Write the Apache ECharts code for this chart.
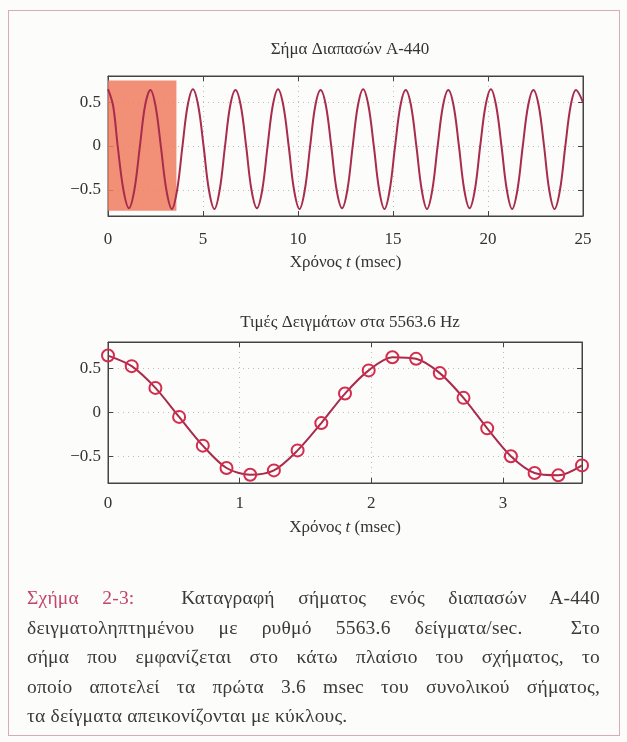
<!DOCTYPE html>
<html>
<head>
<meta charset="utf-8">
<title>Σήμα Διαπασών Α-440</title>
<script src="https://cdn.jsdelivr.net/npm/echarts@6/dist/echarts.min.js"></script>
<style>
    html, body { margin: 0; padding: 0; background: #fcfcfb; }
    #wrap { position: relative; width: 627px; height: 742px; }
    #frame { position: absolute; left: 8px; top: 10px; width: 610px; height: 724px; border: 1px solid #d9abb8; }
    #chartArea { position: absolute; left: 0; top: 0; width: 627px; height: 742px; }
    #caption {
        position: absolute; left: 27px; top: 583px; width: 573px;
        font-family: 'Liberation Serif', serif; font-size: 19.5px; letter-spacing: 0.2px;
        line-height: 29.5px; color: #3a3a3a;
    }
    #caption .j { text-align: justify; text-align-last: justify; }
    #caption .red { color: #c2466a; }
</style>
</head>
<body>
<div id="wrap">
    <div id="frame"></div>
    <div id="chartArea"></div>
    <div id="caption">
        <div class="j"><span class="red">Σχήμα 2-3:</span>&nbsp; Καταγραφή σήματος ενός διαπασών Α-440</div>
        <div class="j">δειγματοληπτημένου με ρυθμό 5563.6 δείγματα/sec.&nbsp; Στο</div>
        <div class="j">σήμα που εμφανίζεται στο κάτω πλαίσιο του σχήματος, το</div>
        <div class="j">οποίο αποτελεί τα πρώτα 3.6 msec του συνολικού σήματος,</div>
        <div>τα δείγματα απεικονίζονται με κύκλους.</div>
    </div>
</div>
<script>
// επάνω γράφημα: σημεία του σήματος ανά 1/8 περιόδου (msec, πλάτος)
const toneT = [0, 0.27, 0.51, 0.81, 1.10, 1.39, 1.68, 1.95,
    2.23, 2.50, 2.78, 3.07, 3.36, 3.64, 3.92, 4.19,
    4.47, 4.75, 5.03, 5.31, 5.60, 5.88, 6.16, 6.43,
    6.71, 6.99, 7.27, 7.55, 7.84, 8.12, 8.40, 8.67,
    8.95, 9.23, 9.51, 9.79, 10.08, 10.36, 10.64, 10.91,
    11.19, 11.47, 11.75, 12.03, 12.32, 12.60, 12.88, 13.15,
    13.43, 13.71, 13.99, 14.27, 14.55, 14.83, 15.11, 15.39,
    15.67, 15.95, 16.23, 16.51, 16.79, 17.07, 17.35, 17.63,
    17.91, 18.19, 18.47, 18.75, 19.03, 19.31, 19.59, 19.87,
    20.15, 20.43, 20.71, 20.99, 21.27, 21.55, 21.83, 22.11,
    22.39, 22.67, 22.95, 23.22, 23.50, 23.79, 24.07, 24.35,
    24.63, 25];
const toneV = [0.65, 0.46, 0, -0.50, -0.71, -0.50, 0, 0.46,
    0.64, 0.46, 0, -0.50, -0.72, -0.50, 0, 0.46,
    0.65, 0.46, 0, -0.50, -0.72, -0.50, 0, 0.46,
    0.64, 0.46, 0, -0.50, -0.71, -0.50, 0, 0.46,
    0.65, 0.46, 0, -0.50, -0.72, -0.50, 0, 0.46,
    0.64, 0.46, 0, -0.50, -0.71, -0.50, 0, 0.46,
    0.65, 0.46, 0, -0.50, -0.72, -0.50, 0, 0.46,
    0.64, 0.46, 0, -0.50, -0.72, -0.50, 0, 0.46,
    0.64, 0.46, 0, -0.50, -0.71, -0.50, 0, 0.46,
    0.65, 0.46, 0, -0.50, -0.72, -0.50, 0, 0.46,
    0.64, 0.46, 0, -0.50, -0.72, -0.50, 0, 0.46,
    0.64, 0.50];

// κάτω γράφημα: δείγματα στα 5563.6 Hz
const sampleT = [0, 0.18, 0.36, 0.54, 0.72, 0.90, 1.08, 1.26, 1.44, 1.62, 1.80,
    1.98, 2.16, 2.34, 2.52, 2.70, 2.88, 3.06, 3.24, 3.42, 3.60];
const sampleV = [0.646, 0.526, 0.279, -0.05, -0.376, -0.63, -0.706, -0.657, -0.43, -0.12, 0.215,
    0.478, 0.627, 0.609, 0.447, 0.166, -0.18, -0.496, -0.687, -0.713, -0.60];

const yTicks = [-0.5, 0, 0.5];
const highlightBox = [0, 3.6, -0.74, 0.75];

const serif = 'Liberation Serif';
const textColor = '#333';
const boxColor = '#444';
const lineColor = '#a82c4c';
const circleColor = '#d42c4c';

const chartDom = document.getElementById('chartArea');
const myChart = echarts.init(chartDom);

function yLabel(v) {
    return v < 0 ? '\u2212' + (-v) : String(v);
}

const labelStyle = { fontFamily: serif, fontSize: 17, color: textColor };
const gridLine = { show: true, lineStyle: { color: '#bdbdbd', width: 1, type: [1, 4] } };
const boxLine = { show: true, onZero: false, lineStyle: { color: boxColor } };

function xMain(gridIndex, max, interval, margin, nameGap) {
    return {
        gridIndex, type: 'value', min: 0, max, interval, position: 'bottom',
        name: '{n|Χρόνος }{i|t}{n| (msec)}', nameLocation: 'middle', nameGap,
        nameTextStyle: {
            rich: {
                n: { fontFamily: serif, fontSize: 17, color: textColor },
                i: { fontFamily: serif, fontSize: 17, color: textColor, fontStyle: 'italic' }
            }
        },
        axisLine: boxLine,
        axisTick: { show: true, inside: true, length: 5, lineStyle: { color: boxColor } },
        axisLabel: { ...labelStyle, margin, showMaxLabel: max === 25 },
        splitLine: gridLine
    };
}

function xMirror(gridIndex, max, interval) {
    return {
        gridIndex, type: 'value', min: 0, max, interval, position: 'top',
        axisLine: boxLine,
        axisTick: { show: true, inside: true, length: 5, lineStyle: { color: boxColor } },
        axisLabel: { show: false },
        splitLine: { show: false }
    };
}

function yMain(gridIndex) {
    return {
        gridIndex, type: 'value', min: -0.8, max: 0.8, position: 'left',
        axisLine: boxLine,
        axisTick: { show: true, inside: true, length: 5, customValues: yTicks, lineStyle: { color: boxColor } },
        axisLabel: { ...labelStyle, margin: 7, customValues: yTicks, formatter: yLabel },
        splitLine: gridLine
    };
}

function yMirror(gridIndex) {
    return {
        gridIndex, type: 'value', min: -0.8, max: 0.8, position: 'right',
        axisLine: boxLine,
        axisTick: { show: true, inside: true, length: 5, customValues: yTicks, lineStyle: { color: boxColor } },
        axisLabel: { show: false },
        splitLine: { show: false }
    };
}

const option = {
    backgroundColor: 'transparent',
    animation: false,
    title: [
        { text: 'Σήμα Διαπασών Α-440', left: 345, top: 36, textAlign: 'center',
          textStyle: { fontFamily: serif, fontSize: 17, fontWeight: 'normal', color: textColor } },
        { text: 'Τιμές Δειγμάτων στα 5563.6 Hz', left: 345, top: 309, textAlign: 'center',
          textStyle: { fontFamily: serif, fontSize: 17, fontWeight: 'normal', color: textColor } }
    ],
    grid: [
        { left: 108, top: 76, width: 475, height: 140, show: true, borderColor: boxColor, borderWidth: 1 },
        { left: 108, top: 342, width: 474, height: 141, show: true, borderColor: boxColor, borderWidth: 1 }
    ],
    xAxis: [
        xMain(0, 25, 5, 15, 38),
        xMirror(0, 25, 5),
        xMain(1, 3.6, 1, 12, 36),
        xMirror(1, 3.6, 1)
    ],
    yAxis: [yMain(0), yMirror(0), yMain(1), yMirror(1)],
    series: [
        {
            type: 'line', xAxisIndex: 0, yAxisIndex: 0,
            data: toneT.map((t, i) => [t, toneV[i]]),
            smooth: 0.35, symbol: 'none',
            lineStyle: { color: lineColor, width: 2 },
            markArea: {
                silent: true,
                itemStyle: { color: '#ef7c5e', opacity: 0.85 },
                data: [[
                    { coord: [highlightBox[0], highlightBox[3]] },
                    { coord: [highlightBox[1], highlightBox[2]] }
                ]]
            }
        },
        {
            type: 'line', xAxisIndex: 2, yAxisIndex: 2,
            data: sampleT.map((t, i) => [t, sampleV[i]]),
            smooth: 0.3, symbol: 'circle', symbolSize: 12, showAllSymbol: true,
            lineStyle: { color: lineColor, width: 2 },
            itemStyle: { color: 'rgba(0,0,0,0)', borderColor: circleColor, borderWidth: 2 }
        }
    ]
};

myChart.setOption(option);

window.addEventListener('resize', () => {
    myChart.resize();
});
</script>
</body>
</html>
